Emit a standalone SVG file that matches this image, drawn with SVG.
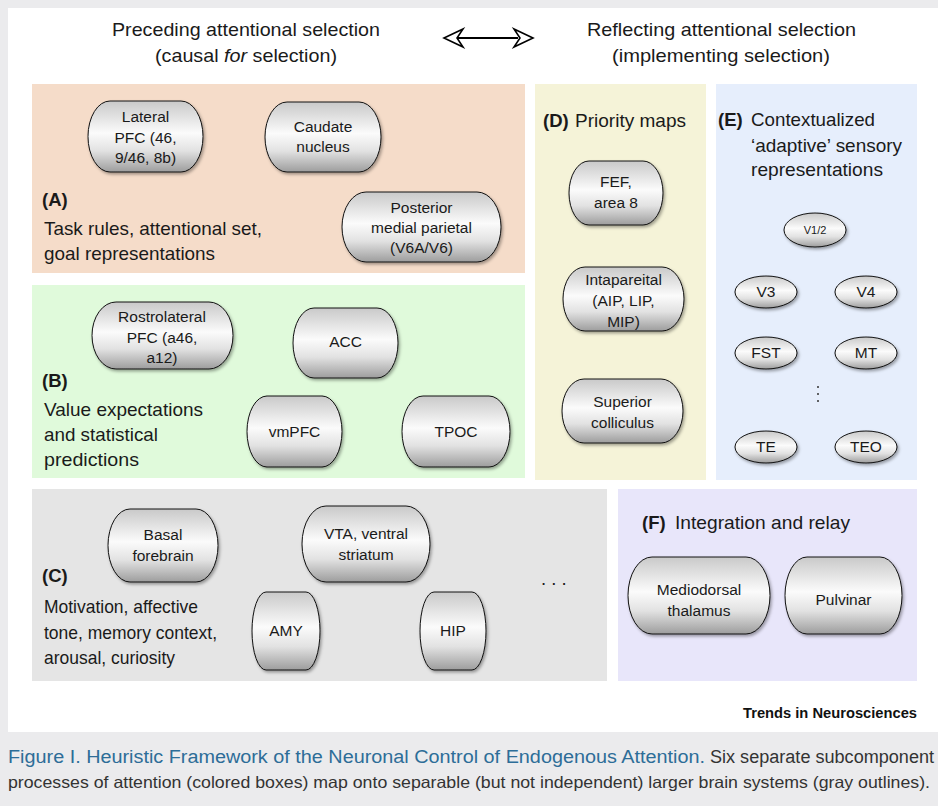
<svg xmlns="http://www.w3.org/2000/svg" width="938" height="806" viewBox="0 0 938 806">
<defs>
<linearGradient id="g" x1="0" y1="0" x2="0" y2="1">
<stop offset="0" stop-color="#c9c9c9"/>
<stop offset="0.45" stop-color="#fbfbfb"/>
<stop offset="0.7" stop-color="#e2e2e2"/>
<stop offset="1" stop-color="#9d9d9d"/>
</linearGradient>
<filter id="sh" x="-20%" y="-20%" width="150%" height="150%">
<feDropShadow dx="1.5" dy="2" stdDeviation="1.5" flood-color="#000" flood-opacity="0.35"/>
</filter>
<style>
.n{fill:url(#g);stroke:#111;stroke-width:1;filter:url(#sh)}
.t{font-family:"Liberation Sans",Arial,sans-serif;font-size:15.5px;fill:#1a1a1a;text-anchor:middle}
.ts{font-family:"Liberation Sans",Arial,sans-serif;font-size:11px;fill:#1a1a1a;text-anchor:middle}
.l{font-family:"Liberation Sans",Arial,sans-serif;font-size:18.5px;fill:#1a1a1a}
.b{font-weight:bold}
.h{font-family:"Liberation Sans",Arial,sans-serif;font-size:19px;fill:#1a1a1a}
.cap{font-family:"Liberation Sans",Arial,sans-serif;font-size:18px}
</style>
</defs>
<rect x="0" y="0" width="938" height="806" fill="#ebebed"/>
<rect x="8" y="8" width="930" height="724" fill="#ffffff"/>

<g id="headings">
<text class="h" x="112" y="36" textLength="268" lengthAdjust="spacingAndGlyphs">Preceding attentional selection</text>
<text class="h" x="155" y="62" textLength="182" lengthAdjust="spacingAndGlyphs">(causal  <tspan font-style="italic">for</tspan> selection)</text>
<text class="h" x="587" y="36" textLength="269" lengthAdjust="spacingAndGlyphs">Reflecting attentional selection</text>
<text class="h" x="612" y="62" textLength="218" lengthAdjust="spacingAndGlyphs">(implementing selection)</text>
</g>

<g id="connectors">
<line x1="458" y1="38" x2="518" y2="38" stroke="#000" stroke-width="2.2"/>
<polygon points="444,38 463,29 457,38 463,47" fill="#fff" stroke="#000" stroke-width="1.6" stroke-linejoin="miter"/>
<polygon points="533,38 514,29 520,38 514,47" fill="#fff" stroke="#000" stroke-width="1.6" stroke-linejoin="miter"/>
</g>

<g id="panelA">
<rect x="32" y="84" width="493" height="189" fill="#f5dcc9"/>
<text class="l b" x="42" y="206">(A)</text>
<text class="l" x="44" y="235" textLength="218" lengthAdjust="spacingAndGlyphs">Task rules, attentional set,</text>
<text class="l" x="44" y="260" textLength="171" lengthAdjust="spacingAndGlyphs">goal representations</text>
</g>
<g id="panelB">
<rect x="32" y="285" width="493" height="193" fill="#e0fadb"/>
<text class="l b" x="42" y="387">(B)</text>
<text class="l" x="44" y="416" textLength="159" lengthAdjust="spacingAndGlyphs">Value expectations</text>
<text class="l" x="44" y="441" textLength="114" lengthAdjust="spacingAndGlyphs">and statistical</text>
<text class="l" x="44" y="466" textLength="95" lengthAdjust="spacingAndGlyphs">predictions</text>
</g>
<g id="panelC">
<rect x="32" y="489" width="575" height="192" fill="#e5e5e5"/>
<text class="l b" x="42" y="582">(C)</text>
<text class="l" x="44" y="613" textLength="154" lengthAdjust="spacingAndGlyphs">Motivation, affective</text>
<text class="l" x="44" y="639" textLength="173" lengthAdjust="spacingAndGlyphs">tone, memory context,</text>
<text class="l" x="44" y="664" textLength="131" lengthAdjust="spacingAndGlyphs">arousal, curiosity</text>
<text class="l" x="541" y="585">. . .</text>
</g>
<g id="panelD">
<rect x="535" y="84" width="171" height="396" fill="#f5f3d8"/>
<text class="l b" x="543" y="127">(D)</text>
<text class="l" x="575" y="127" textLength="111" lengthAdjust="spacingAndGlyphs">Priority maps</text>
</g>
<g id="panelE">
<rect x="716" y="84" width="201" height="396" fill="#e6eefc"/>
<text class="l b" x="718" y="126">(E)</text>
<text class="l" x="751" y="126" textLength="124" lengthAdjust="spacingAndGlyphs">Contextualized</text>
<text class="l" x="751" y="152" textLength="151" lengthAdjust="spacingAndGlyphs">‘adaptive’ sensory</text>
<text class="l" x="751" y="176" textLength="132" lengthAdjust="spacingAndGlyphs">representations</text>
<circle cx="818" cy="387" r="1" fill="#333"/>
<circle cx="818" cy="394" r="1" fill="#333"/>
<circle cx="818" cy="401" r="1" fill="#333"/>
</g>
<g id="panelF">
<rect x="618" y="489" width="299" height="192" fill="#e8e6fa"/>
<text class="l b" x="642" y="529">(F)</text>
<text class="l" x="675" y="529" textLength="175" lengthAdjust="spacingAndGlyphs">Integration and relay</text>
</g>

<g id="n-latpfc"><path class="n" d="M110,101 H181 A22,35.5 0 0 1 181,172 H110 A22,35.5 0 0 1 110,101 Z"/>
<text class="t" x="145.5" y="122">Lateral</text><text class="t" x="145.5" y="143">PFC (46,</text><text class="t" x="145.5" y="163">9/46, 8b)</text></g>
<g id="n-caudate"><path class="n" d="M287,102 H359 A22,35 0 0 1 359,172 H287 A22,35 0 0 1 287,102 Z"/>
<text class="t" x="323" y="132">Caudate</text><text class="t" x="323" y="152">nucleus</text></g>
<g id="n-postpar"><path class="n" d="M366,192 H477 A24,35 0 0 1 477,262 H366 A24,35 0 0 1 366,192 Z"/>
<text class="t" x="421.5" y="213">Posterior</text><text class="t" x="421.5" y="233">medial parietal</text><text class="t" x="421.5" y="253">(V6A/V6)</text></g>
<g id="n-rlpfc"><path class="n" d="M116,302 H209 A24,33.5 0 0 1 209,369 H116 A24,33.5 0 0 1 116,302 Z"/>
<text class="t" x="162" y="322">Rostrolateral</text><text class="t" x="162" y="343">PFC (a46,</text><text class="t" x="162" y="363">a12)</text></g>
<g id="n-acc"><path class="n" d="M314,308 H377 A21,35 0 0 1 377,378 H314 A21,35 0 0 1 314,308 Z"/>
<text class="t" x="345.5" y="347">ACC</text></g>
<g id="n-vmpfc"><path class="n" d="M267,396 H322 A20,35.5 0 0 1 322,467 H267 A20,35.5 0 0 1 267,396 Z"/>
<text class="t" x="294.5" y="437">vmPFC</text></g>
<g id="n-tpoc"><path class="n" d="M423,396 H489 A21,35.5 0 0 1 489,467 H423 A21,35.5 0 0 1 423,396 Z"/>
<text class="t" x="456" y="437">TPOC</text></g>
<g id="n-basal"><path class="n" d="M130,509 H196 A22,36.5 0 0 1 196,582 H130 A22,36.5 0 0 1 130,509 Z"/>
<text class="t" x="163" y="540">Basal</text><text class="t" x="163" y="561">forebrain</text></g>
<g id="n-vta"><path class="n" d="M326,506 H406 A24,38 0 0 1 406,582 H326 A24,38 0 0 1 326,506 Z"/>
<text class="t" x="366" y="539">VTA, ventral</text><text class="t" x="366" y="560">striatum</text></g>
<g id="n-amy"><path class="n" d="M266,592 H306 A14,39 0 0 1 306,670 H266 A14,39 0 0 1 266,592 Z"/>
<text class="t" x="286" y="636">AMY</text></g>
<g id="n-hip"><path class="n" d="M434,592 H472 A14,39 0 0 1 472,670 H434 A14,39 0 0 1 434,592 Z"/>
<text class="t" x="453" y="636">HIP</text></g>
<g id="n-fef"><path class="n" d="M589,161 H643 A20,32 0 0 1 643,225 H589 A20,32 0 0 1 589,161 Z"/>
<text class="t" x="616" y="187">FEF,</text><text class="t" x="616" y="208">area 8</text></g>
<g id="n-intra"><path class="n" d="M585,267 H662 A22,32 0 0 1 662,331 H585 A22,32 0 0 1 585,267 Z"/>
<text class="t" x="623.5" y="285">Intapareital</text><text class="t" x="623.5" y="306">(AIP, LIP,</text><text class="t" x="623.5" y="327">MIP)</text></g>
<g id="n-sc"><path class="n" d="M584,379 H661 A22,32 0 0 1 661,443 H584 A22,32 0 0 1 584,379 Z"/>
<text class="t" x="622.5" y="407">Superior</text><text class="t" x="622.5" y="428">colliculus</text></g>
<g id="n-v12"><ellipse class="n" cx="815" cy="230" rx="31" ry="17"/><text class="ts" x="815" y="234">V1/2</text></g>
<g id="n-v3"><ellipse class="n" cx="766" cy="292" rx="31" ry="16"/><text class="t" x="766" y="297">V3</text></g>
<g id="n-v4"><ellipse class="n" cx="866" cy="292" rx="31" ry="16"/><text class="t" x="866" y="297">V4</text></g>
<g id="n-fst"><ellipse class="n" cx="766" cy="353" rx="31" ry="16"/><text class="t" x="766" y="358">FST</text></g>
<g id="n-mt"><ellipse class="n" cx="866" cy="353" rx="31" ry="16"/><text class="t" x="866" y="358">MT</text></g>
<g id="n-te"><ellipse class="n" cx="766" cy="447" rx="31" ry="16"/><text class="t" x="766" y="452">TE</text></g>
<g id="n-teo"><ellipse class="n" cx="866" cy="447" rx="31" ry="16"/><text class="t" x="866" y="452">TEO</text></g>
<g id="n-md"><path class="n" d="M652,557 H746 A24,38.5 0 0 1 746,634 H652 A24,38.5 0 0 1 652,557 Z"/>
<text class="t" x="699" y="595">Mediodorsal</text><text class="t" x="699" y="616">thalamus</text></g>
<g id="n-pulv"><path class="n" d="M807,557 H880 A22,38.5 0 0 1 880,634 H807 A22,38.5 0 0 1 807,557 Z"/>
<text class="t" x="843.5" y="605">Pulvinar</text></g>

<g id="footer">
<text x="743" y="718" font-family="'Liberation Sans',Arial,sans-serif" font-size="15" font-weight="bold" fill="#111" textLength="174" lengthAdjust="spacingAndGlyphs">Trends in Neurosciences</text>
<text class="cap" x="8" y="763" fill="#2d6d98" textLength="697" lengthAdjust="spacingAndGlyphs">Figure I. Heuristic Framework of the Neuronal Control of Endogenous Attention.</text>
<text class="cap" x="710" y="763" fill="#333" textLength="224" lengthAdjust="spacingAndGlyphs">Six separate subcomponent</text>
<text x="8" y="788" fill="#333" font-family="'Liberation Sans',Arial,sans-serif" font-size="16.5" textLength="922" lengthAdjust="spacingAndGlyphs">processes of attention (colored boxes) map onto separable (but not independent) larger brain systems (gray outlines).</text>
</g>
</svg>
